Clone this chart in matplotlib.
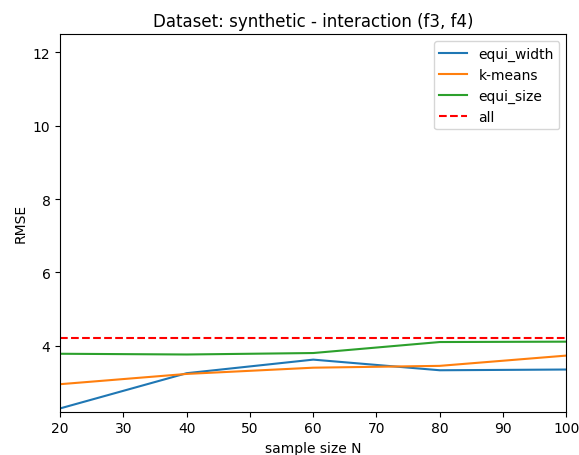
import matplotlib
matplotlib.use('Agg')
import matplotlib.pyplot as plt

# RMSE per sample size for each binning strategy
sample_sizes = [20, 40, 60, 80, 100]
rmse_equi_width = [2.29, 3.25, 3.62, 3.33, 3.35]
rmse_kmeans = [2.95, 3.23, 3.40, 3.45, 3.73]
rmse_equi_size = [3.78, 3.76, 3.80, 4.10, 4.11]
rmse_all = 4.21

fig, ax = plt.subplots(figsize=(5.79, 4.56), dpi=100)
fig.subplots_adjust(left=0.104, right=0.978, top=0.923, bottom=0.095)

ax.plot(sample_sizes, rmse_equi_width, label='equi_width')
ax.plot(sample_sizes, rmse_kmeans, label='k-means')
ax.plot(sample_sizes, rmse_equi_size, label='equi_size')
ax.plot(sample_sizes, [rmse_all] * len(sample_sizes), 'r--', label='all')

ax.set_xlim(20, 100)
ax.set_ylim(2.2, 12.5)
ax.set_xlabel('sample size N')
ax.set_ylabel('RMSE')
ax.set_title('Dataset: synthetic - interaction (f3, f4)')
ax.legend(loc='upper right')

fig.savefig('out.png')
